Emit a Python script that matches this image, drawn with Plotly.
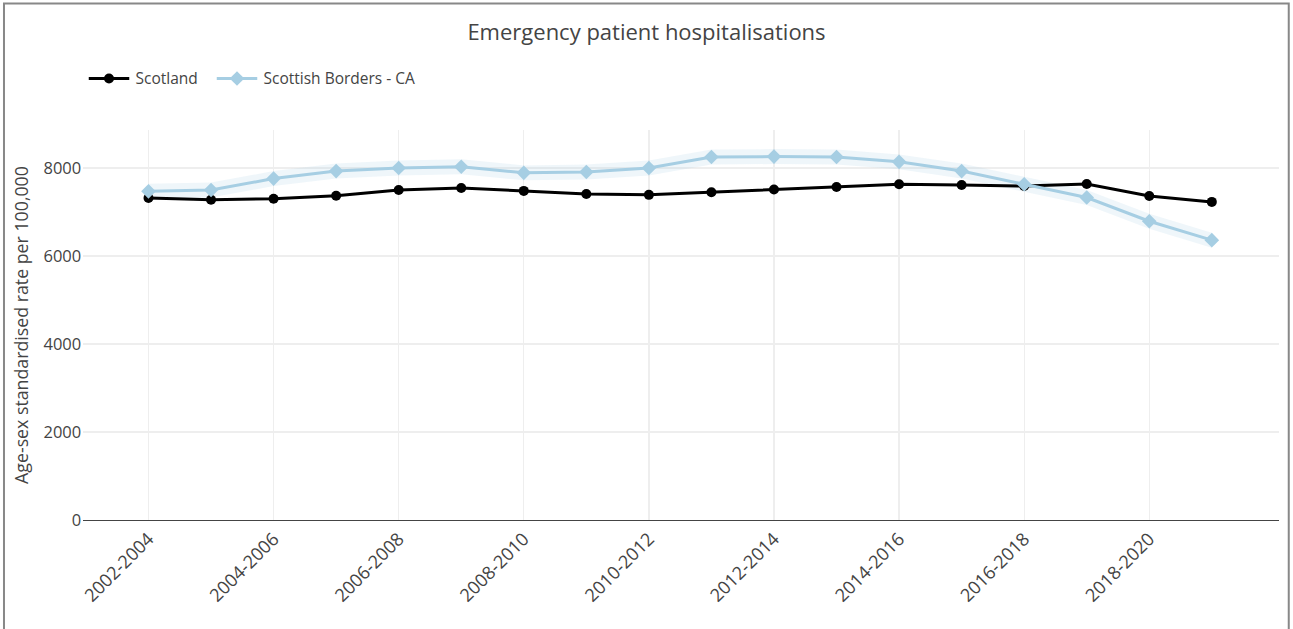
import plotly.graph_objects as go

periods = ["2002-2004", "2003-2005", "2004-2006", "2005-2007", "2006-2008", "2007-2009",
           "2008-2010", "2009-2011", "2010-2012", "2011-2013", "2012-2014", "2013-2015",
           "2014-2016", "2015-2017", "2016-2018", "2017-2019", "2018-2020", "2019-2021"]
tick_labels = periods[::2]

scotland = [7320, 7280, 7300, 7370, 7500, 7545, 7480, 7410, 7390, 7450, 7510, 7570,
            7630, 7615, 7590, 7635, 7365, 7230]
borders = [7470, 7500, 7760, 7930, 8000, 8030, 7890, 7910, 8000, 8250, 8260, 8250,
           8140, 7930, 7630, 7330, 6790, 6360]
borders_upper = [7640, 7670, 7930, 8100, 8170, 8200, 8060, 8080, 8170, 8420, 8430, 8420,
                 8310, 8100, 7800, 7500, 6960, 6530]
borders_lower = [7300, 7330, 7590, 7760, 7830, 7860, 7720, 7740, 7830, 8080, 8090, 8080,
                 7970, 7760, 7460, 7160, 6620, 6190]

# The reference is a Plotly chart photographed at 125% page zoom.
Z = 1.25
W, H = 1293 / Z, 629 / Z
ML, MR, MT, MB = 83 / Z, 14 / Z, 130 / Z, 109 / Z
PW, PH = W - ML - MR, H - MT - MB

FONT = "Open Sans"
fig = go.Figure()

fig.add_trace(go.Scatter(x=periods, y=borders_upper, mode="lines", line=dict(width=0),
                         showlegend=False, hoverinfo="skip"))
fig.add_trace(go.Scatter(x=periods, y=borders_lower, mode="lines", line=dict(width=0),
                         fill="tonexty", fillcolor="rgba(166,206,227,0.18)",
                         showlegend=False, hoverinfo="skip"))
fig.add_trace(go.Scatter(x=periods, y=scotland, name="Scotland", mode="lines+markers",
                         legendwidth=55,
                         line=dict(color="#000000", width=2.4),
                         marker=dict(symbol="circle", size=8, color="#000000")))
fig.add_trace(go.Scatter(x=periods, y=borders, name="Scottish Borders - CA", mode="lines+markers",
                         line=dict(color="#a6cee3", width=2.4),
                         marker=dict(symbol="diamond", size=9, color="#a6cee3")))

fig.update_layout(
    width=W, height=H,
    margin=dict(l=ML, r=MR, t=MT, b=MB, pad=0),
    paper_bgcolor="white", plot_bgcolor="white",
    font=dict(family=FONT, color="#444", size=12),
    title=dict(text="Emergency patient hospitalisations", x=0.5, xref="container",
               xanchor="center", y=1 - 32 / 629, yref="container", yanchor="middle",
               font=dict(family=FONT, size=17.6, color="#444")),
    legend=dict(orientation="h", traceorder="normal", x=0.0, xanchor="left",
                y=(520 - 79) / 390, yanchor="middle", itemwidth=32.4,
                font=dict(family=FONT, size=12.4, color="#444"), bgcolor="rgba(0,0,0,0)"),
    xaxis=dict(type="category", range=[-1.055, 18.07], tickmode="array",
               tickvals=tick_labels, ticktext=tick_labels, tickangle=-45,
               showgrid=True, gridcolor="#eeeeee", gridwidth=1,
               showline=True, linecolor="#444", linewidth=1, ticks="",
               tickfont=dict(size=14.5, color="#444"), zeroline=False),
    yaxis=dict(range=[0, 8864], tickvals=[0, 2000, 4000, 6000, 8000],
               showgrid=True, gridcolor="#eeeeee", gridwidth=1, zeroline=False,
               showline=False, ticks="",
               title=dict(text="Age-sex standardised rate per 100,000",
                          font=dict(size=14.2, color="#444"), standoff=8),
               tickfont=dict(size=13.2, color="#444")),
    shapes=[dict(type="rect", xref="paper", yref="paper",
                 x0=(4.5 / Z - ML) / PW, x1=(1289 / Z - ML) / PW,
                 y0=-0.4, y1=(PH + MT - 3.5 / Z) / PH,
                 line=dict(color="#888888", width=1.6), fillcolor="rgba(0,0,0,0)", layer="above")],
)

fig.write_html("out.html", default_width=f"{W}px", default_height=f"{H}px",
               config={"displayModeBar": False},
               post_script="document.body.style.margin='0';document.body.style.overflow='hidden';"
                           "document.body.style.zoom='1.25';")
